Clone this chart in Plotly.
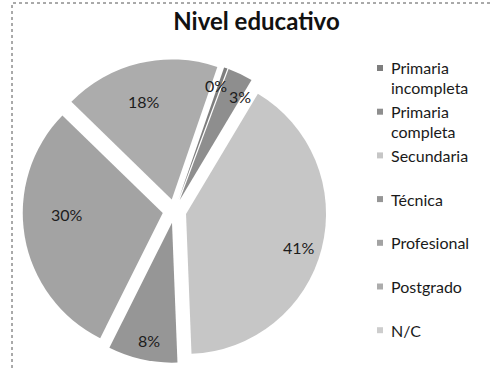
import math
import plotly.graph_objects as go

# Education level distribution (percent of respondents)
categories = ["Primaria incompleta", "Primaria completa", "Secundaria",
              "Técnica", "Profesional", "Postgrado", "N/C"]
legend_labels = [["Primaria", "incompleta"], ["Primaria", "completa"], ["Secundaria"],
                 ["Técnica"], ["Profesional"], ["Postgrado"], ["N/C"]]
shares = [0.4, 2.9, 40.8, 8.0, 29.9, 18.0, 0.0]

slice_colors = ["#7e7e7e", "#8e8e8e", "#c6c6c6", "#969696", "#a3a3a3", "#acacac", "#cdcdcd"]

W, H = 490, 368
ROTATION = 19          # first slice starts this many degrees clockwise from 12 o'clock
PULL = 0.085           # every slice exploded by the same fraction of the radius
CX, CY, R = 174.5, 211.0, 140.0   # pie centre and radius in pixels
# percentage label placement: distance from the pie centre (in radii) and
# a small angular nudge (degrees) away from the slice's mid-angle
LABEL_DIST = [0.94, 0.94, 0.93, 0.94, 0.77, 0.81, 0.0]
LABEL_NUDGE = [-1.5, 4.0, 2.0, -1.0, 8.0, -2.0, 0.0]
FONT = "Lato, Open Sans, sans-serif"


def px(x):
    return x / W


def py(y):
    return 1 - y / H


box = R * (1 + PULL)
fig = go.Figure(go.Pie(
    labels=categories,
    values=shares,
    sort=False,
    direction="clockwise",
    rotation=ROTATION,
    pull=[PULL] * len(shares),
    marker=dict(colors=slice_colors, line=dict(width=0)),
    textinfo="none",
    hoverinfo="label+percent",
    showlegend=False,
    domain=dict(x=[px(CX - box), px(CX + box)], y=[py(CY + box), py(CY - box)]),
))

annotations = []

# percentage labels, placed around each slice's mid-angle
total = sum(shares)
cum = 0.0
for v, dist, nudge in zip(shares, LABEL_DIST, LABEL_NUDGE):
    start = cum
    cum += v
    if v <= 0:
        continue
    mid = math.radians(ROTATION + (start + v / 2) / total * 360 + nudge)
    lx = CX + math.sin(mid) * dist * R
    ly = CY - math.cos(mid) * dist * R
    annotations.append(dict(
        x=px(lx), y=py(ly), xref="paper", yref="paper", showarrow=False,
        text=f"{round(v / total * 100):.0f}%",
        font=dict(family=FONT, size=16, color="#1c1c1c"),
        xanchor="center", yanchor="middle",
    ))

# legend drawn as small swatches with top-aligned labels
shapes = []
LEG_X, LEG_Y0, LEG_STEP, LINE_STEP, FS = 377, 68, 43.7, 20, 16
for i, (lines, col) in enumerate(zip(legend_labels, slice_colors)):
    yline = LEG_Y0 + i * LEG_STEP
    shapes.append(dict(type="rect", xref="paper", yref="paper",
                       x0=px(LEG_X), x1=px(LEG_X + 6), y0=py(yline + 3), y1=py(yline - 3),
                       fillcolor=col, line=dict(width=0)))
    for k, line in enumerate(lines):
        annotations.append(dict(
            x=px(LEG_X + 12), y=py(yline + k * LINE_STEP), xref="paper", yref="paper",
            showarrow=False, text=line, align="left",
            font=dict(family=FONT, size=FS, color="#1a1a1a"),
            xanchor="left", yanchor="middle",
        ))

# chart frame
shapes.append(dict(type="rect", xref="paper", yref="paper",
                   x0=px(12), x1=px(W + 5), y0=py(H + 5), y1=py(3),
                   line=dict(color="#555555", width=1, dash="dot"), fillcolor="rgba(0,0,0,0)"))

fig.update_layout(
    width=W, height=H,
    margin=dict(l=0, r=0, t=0, b=0),
    paper_bgcolor="white", plot_bgcolor="white",
    title=dict(text="<b>Nivel educativo</b>", x=px(256.5), y=py(22),
               xanchor="center", yanchor="middle",
               font=dict(family=FONT, size=24, color="#111111")),
    annotations=annotations,
    shapes=shapes,
)

fig.write_html("out.html")
